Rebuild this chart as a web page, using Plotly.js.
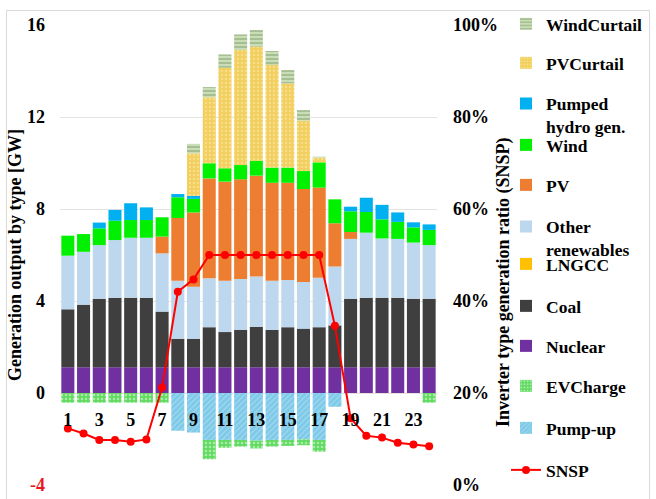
<!DOCTYPE html>
<html><head><meta charset="utf-8">
<script src="https://cdn.plot.ly/plotly-3.0.1.min.js"></script>
<style>
html,body{margin:0;padding:0;background:#fff;}
#wrap{position:relative;width:656px;height:499px;overflow:hidden;}
#chart{width:656px;height:499px;}
#frame{position:absolute;left:6px;top:10px;width:642px;height:495px;border:1px solid #d9d9d9;pointer-events:none;}
</style></head><body>
<div id="wrap"><div id="chart"></div><div id="frame"></div></div>
<script>
// ---- data (GW per hour) ----
const hours = [1,2,3,4,5,6,7,8,9,10,11,12,13,14,15,16,17,18,19,20,21,22,23,24];
const tickHours = [1,3,5,7,9,11,13,15,17,19,21,23];
const tickHourLabels = ["1","3","5","7","9","11","13","15","17","19","21","23"];
const nuclear = [1.12,1.12,1.12,1.12,1.12,1.12,1.12,1.12,1.12,1.12,1.12,1.12,1.12,1.12,1.12,1.12,1.12,1.12,1.12,1.12,1.12,1.12,1.12,1.12];
const coal = [2.52,2.72,2.98,3.02,3.02,3.02,2.42,1.24,1.24,1.74,1.53,1.63,1.76,1.62,1.74,1.68,1.74,1.82,2.98,3.02,3.02,3.02,2.98,2.98];
const lngcc = [0,0,0,0,0,0,0,0,0,0,0,0,0,0,0,0,0,0,0,0,0,0,0,0];
const otherRen = [2.33,2.30,2.33,2.51,2.61,2.61,2.53,2.52,2.26,2.13,2.23,2.21,2.18,2.14,2.05,2.03,2.15,2.56,2.60,2.83,2.58,2.56,2.44,2.33];
const pv = [0,0,0,0,0,0,0.73,2.73,3.23,4.34,4.31,4.33,4.39,4.26,4.23,4.04,3.92,1.88,0.30,0,0,0,0,0];
const wind = [0.87,0.77,0.73,0.84,0.77,0.77,0.84,0.90,0.59,0.66,0.58,0.62,0.65,0.66,0.66,0.78,1.10,1.04,0.90,0.90,0.83,0.74,0.66,0.66];
const pumpedGen = [0,0,0.25,0.47,0.73,0.55,0,0.14,0.13,0,0,0,0,0,0,0,0,0,0.20,0.62,0.63,0.41,0.22,0.24];
const pvCurtail = [0,0,0,0,0,0,0,0,1.85,2.87,4.37,5.00,4.96,4.46,3.66,2.19,0.20,0,0,0,0,0,0,0];
const windCurtail = [0,0,0,0,0,0,0,0,0.41,0.44,0.58,0.68,0.72,0.61,0.58,0.46,0.05,0,0,0,0,0,0,0];
const pumpUp = [0,0,0,0,0,0,0,-1.64,-1.72,-2.04,-2.04,-2.04,-2.07,-2.04,-2.04,-2.01,-2.04,-0.60,0,0,0,0,0,0];
const evCharge = [-0.42,-0.42,-0.42,-0.42,-0.42,-0.42,-0.42,0,0,-0.84,-0.34,-0.29,-0.34,-0.29,-0.26,-0.26,-0.51,0,0,0,0,0,0,-0.42];
const snsp = [12.3,11.2,9.8,9.8,9.4,9.9,21.2,42.0,44.7,50,50,50,50,50,50,50,50,34.6,14.5,10.7,10.3,9.2,8.8,8.4];
const leftTickVals = [-4,0,4,8,12,16];
const leftTickText = ['<span style="color:#e8191c">-4</span>','0','4','8','12','16'];
const rightTickVals = [0,20,40,60,80,100];
const rightTickText = ['0%','20%','40%','60%','80%','100%'];

// ---- layout helpers ----
const FONT = 'Liberation Serif, Times New Roman, serif';
const plotTop = 25, plotBottom = 485, plotLeft = 60, plotRight = 437;
const pyToPaper = py => (plotBottom - py) / (plotBottom - plotTop);
const pxToPaper = px => (px - plotLeft) / (plotRight - plotLeft);

function bar(name, y, color, legendId, pattern) {
  const t = {type:'bar', name:name, x:hours, y:y, legend:legendId,
    marker:{color:color, line:{width:0}}, hoverinfo:'name+y'};
  if (pattern) t.marker.pattern = pattern;
  return t;
}
const traces = [
  bar('Pump-up', pumpUp, '#7CC9E8', 'legend11', {shape:'/', fgcolor:'#A3D9EF', bgcolor:'#7CC9E8', size:4, solidity:0.3}),
  bar('EVCharge', evCharge, '#62DA62', 'legend10', {shape:'.', fgcolor:'#A8EDA8', bgcolor:'#62DA62', size:4, solidity:0.3}),
  bar('Nuclear', nuclear, '#7030A0', 'legend9'),
  bar('Coal', coal, '#3F3F3F', 'legend8'),
  bar('LNGCC', lngcc, '#FFC000', 'legend7'),
  bar('Other<br>renewables', otherRen, '#BDD7EE', 'legend6'),
  bar('PV', pv, '#ED7D31', 'legend5'),
  bar('Wind', wind, '#00F000', 'legend4'),
  bar('Pumped<br>hydro gen.', pumpedGen, '#00B0F0', 'legend3'),
  bar('PVCurtail', pvCurtail, '#F2CF5E', 'legend2', {shape:'.', fgcolor:'#F8E08F', bgcolor:'#F2CF5E', size:4, solidity:0.25}),
  bar('WindCurtail', windCurtail, '#C4D9B0', 'legend', {shape:'-', fgcolor:'#9DB789', bgcolor:'#C9DDB6', size:4, solidity:0.4}),
  {type:'scatter', mode:'lines+markers', name:'SNSP', x:hours, y:snsp, yaxis:'y2', legend:'legend12',
   line:{color:'#FF0000', width:2}, marker:{color:'#FF0000', size:8}}
];

// legend box centre (px) used for placement
const legendSpec = [
  ['legend',24],['legend2',63],['legend3',115],['legend4',145],['legend5',185],['legend6',238],
  ['legend7',264],['legend8',306],['legend9',346],['legend10',386],['legend11',428],['legend12',470]
];

const layout = {
  width:656, height:499,
  margin:{l:plotLeft, r:656-plotRight, t:plotTop, b:499-plotBottom, pad:0, autoexpand:false},
  paper_bgcolor:'#fff', plot_bgcolor:'#fff',
  font:{family:FONT, size:17.5, color:'#000', weight:'bold'},
  barmode:'relative', bargap:0.17,
  xaxis:{range:[0.5,24.5], tickvals:tickHours, ticktext:tickHourLabels, showgrid:false, zeroline:false,
    showline:false, ticks:'', anchor:'free', position:pyToPaper(393), ticklabelstandoff:14,
    tickfont:{family:FONT, size:18, weight:'bold'}},
  yaxis:{range:[-4,16], tickvals:leftTickVals, ticktext:leftTickText, showgrid:true, gridcolor:'#e3e3e3',
    gridwidth:1, zeroline:false, showline:false, ticks:'', ticklabelstandoff:14,
    tickfont:{family:FONT, size:18, weight:'bold'},
    title:{text:'Generation output by type [GW]', standoff:0, font:{family:FONT, size:18, weight:'bold'}}},
  yaxis2:{range:[0,100], overlaying:'y', side:'right', tickvals:rightTickVals, ticktext:rightTickText,
    showgrid:false, zeroline:false, showline:false, ticks:'', ticklabelstandoff:15,
    tickfont:{family:FONT, size:18, weight:'bold'}},
  annotations:[{text:'Inverter type generation ratio (SNSP)', textangle:-90, xref:'paper', yref:'paper',
    x:pxToPaper(503), y:pyToPaper(282), xanchor:'center', yanchor:'middle', showarrow:false,
    font:{family:FONT, size:18, weight:'bold'}}],
  showlegend:true
};
legendSpec.forEach(([id, cy]) => {
  layout[id] = {x:pxToPaper(506), xanchor:'left', y:pyToPaper(cy), yanchor:'middle',
    bgcolor:'rgba(0,0,0,0)', borderwidth:0, valign:'top',
    font:{family:FONT, size:17.5, color:'#000', weight:'bold'}};
});

Plotly.newPlot('chart', traces, layout, {displayModeBar:false, staticPlot:true});
</script>
</body></html>
